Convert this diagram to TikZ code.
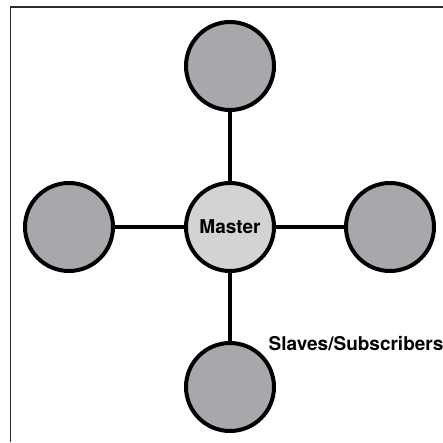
\documentclass[tikz,border=0pt]{standalone}
\usepackage{fontspec}
\setmainfont{TeX Gyre Heros}
\usepackage{xcolor}
\definecolor{SlaveGray}{HTML}{A7A8AB}
\definecolor{MasterGray}{HTML}{D2D3D5}
\definecolor{Frame}{HTML}{2A2A2A}
\begin{document}
\begin{tikzpicture}[x=1pt,y=1pt,
    font=\fontsize{19}{22}\selectfont\bfseries,
    hub/.style={circle,draw=black,line width=4pt,inner sep=0pt,minimum size=88pt},
    link/.style={draw=black,line width=4pt}]
  \useasboundingbox (0,0) rectangle (443,442);
  % frame, open at right and bottom
  \coordinate (fb) at (10.5,0);
  \coordinate (ft) at (443,435);
  \draw[Frame,line width=1.2pt] (fb) |- (ft);
  % master and its slaves
  \node[hub,fill=MasterGray] (master) at (230,215) {Master};
  \node[hub,fill=SlaveGray] (slaveN) at (230,376) {};
  \node[hub,fill=SlaveGray] (slaveS) at (230,55) {};
  \node[hub,fill=SlaveGray] (slaveW) at (69,215) {};
  \node[hub,fill=SlaveGray] (slaveE) at (390,215) {};
  \foreach \s in {slaveN,slaveS,slaveW,slaveE}
    \draw[link] (master) -- (\s);
  \node[anchor=base west,inner sep=0pt] (subs)
    at ([shift={(6,3.5)}]slaveS.north east) {Slaves/Subscribers};
\end{tikzpicture}
\end{document}
